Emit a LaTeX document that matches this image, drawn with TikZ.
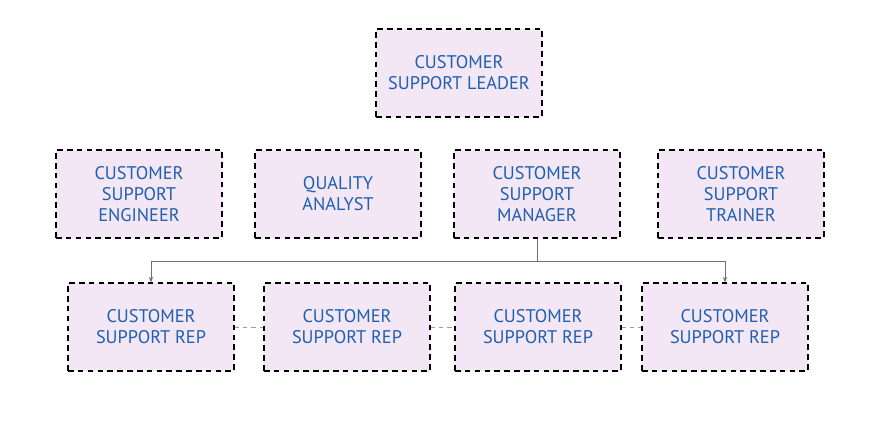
\documentclass[tikz,border=0pt]{standalone}
\usepackage{fontspec}
\setmainfont{PT Sans}
\usetikzlibrary{arrows.meta, positioning}
\definecolor{BoxFill}{HTML}{F3E6F5}
\definecolor{RoleBlue}{HTML}{1F5FAF}
\definecolor{LinkGray}{HTML}{707070}
\begin{document}
\begin{tikzpicture}[x=0.025cm,y=-0.025cm,
    role/.style={draw=black,dashed,line width=0.8pt,dash pattern=on 4pt off 3pt,
        fill=BoxFill,text=RoleBlue,minimum width=4.15cm,minimum height=2.2cm,
        align=center,font=\fontsize{13}{15}\selectfont},
    link/.style={draw=LinkGray,line width=0.5pt},
    peer/.style={draw=LinkGray!70,dashed,line width=0.6pt}]
    \useasboundingbox (0,0) rectangle (873,432);

    % Top
    \node[role] (leader) at (459,73) {CUSTOMER\\SUPPORT LEADER};

    % Second row
    \node[role] (engineer) at (139,194) {CUSTOMER\\SUPPORT\\ENGINEER};
    \node[role] (analyst) at (338,194) {QUALITY\\ANALYST};
    \node[role] (manager) at (537,194) {CUSTOMER\\SUPPORT\\MANAGER};
    \node[role] (trainer) at (741,194) {CUSTOMER\\SUPPORT\\TRAINER};

    % Reps
    \node[role] (rep1) at (151,327) {CUSTOMER\\SUPPORT REP};
    \node[role] (rep2) at (347,327) {CUSTOMER\\SUPPORT REP};
    \node[role] (rep3) at (538,327) {CUSTOMER\\SUPPORT REP};
    \node[role] (rep4) at (725,327) {CUSTOMER\\SUPPORT REP};

    % Links
    \coordinate (split) at (537,261);
    \draw[link] (manager.south) -- (split);
    \draw[link,-{Stealth[length=4pt]}] (split) -| (rep1.north);
    \draw[link,-{Stealth[length=4pt]}] (split) -| (rep4.north);
    \draw[peer] (rep1) -- (rep2);
    \draw[peer] (rep2) -- (rep3);
    \draw[peer] (rep3) -- (rep4);
\end{tikzpicture}
\end{document}
